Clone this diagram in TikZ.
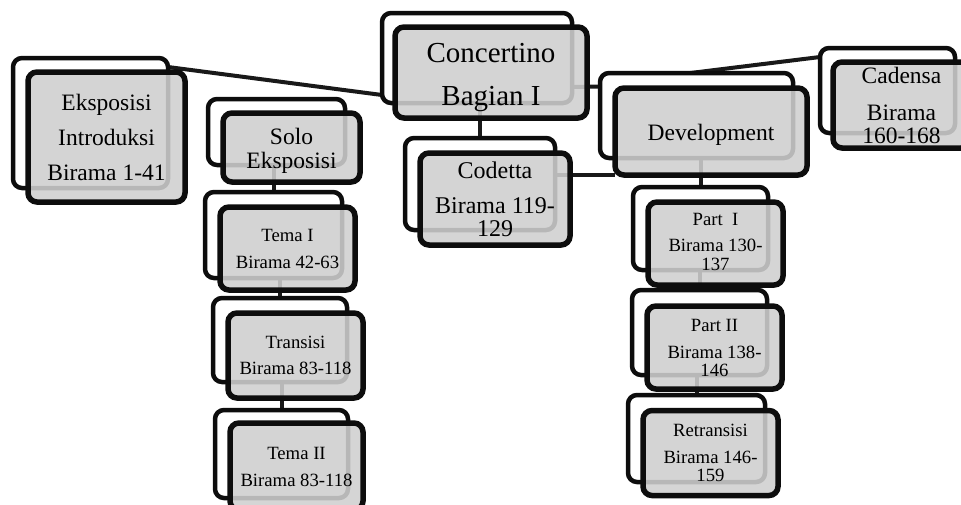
\documentclass[tikz,border=0pt]{standalone}
\usepackage{fontspec}
\setmainfont{Liberation Serif}
\usetikzlibrary{backgrounds}
\begin{document}
\begin{tikzpicture}[x=1pt,y=-1pt,
  backbox/.style={draw=black!95, line width=4.5pt, fill=white, rounded corners=9pt, inner sep=0pt, outer sep=0pt},
  frontbox/.style={draw=black!95, line width=5.5pt, fill=black!19, fill opacity=0.88, text opacity=1,
    rounded corners=9pt, inner sep=0pt, outer sep=0pt, align=center, text=black},
  link/.style={line width=4pt, draw=black!90},
  bigtxt/.style={font=\fontsize{23.5}{35}\selectfont},
  smalltxt/.style={font=\fontsize{18.7}{19}\selectfont}
]
\useasboundingbox (0,0) rectangle (961,504);
\clip (0,0) rectangle (961,504);

% back boxes
\node[backbox, minimum width=155pt, minimum height=130pt] (ekspo-b) at (90.5,123) {};
\node[backbox, minimum width=137pt, minimum height=66pt] (solo-b) at (276.5,132) {};
\node[backbox, minimum width=190pt, minimum height=90pt] (conc-b) at (477,58) {};
\node[backbox, minimum width=150pt, minimum height=92pt] (cod-b) at (480,184) {};
\node[backbox, minimum width=193pt, minimum height=85pt] (dev-b) at (696.5,115.5) {};
\node[backbox, minimum width=135pt, minimum height=85pt] (cad-b) at (887.5,90.5) {};
\node[backbox, minimum width=137pt, minimum height=86pt] (tema1-b) at (273.5,235) {};
\node[backbox, minimum width=134pt, minimum height=84pt] (trans-b) at (280,340) {};
\node[backbox, minimum width=133pt, minimum height=88pt] (tema2-b) at (281.5,454) {};
\node[backbox, minimum width=135pt, minimum height=83pt] (p1-b) at (700.5,228.5) {};
\node[backbox, minimum width=135pt, minimum height=85pt] (p2-b) at (699.5,332.5) {};
\node[backbox, minimum width=137pt, minimum height=87pt] (retr-b) at (696.5,438.5) {};

% front boxes
\node[frontbox, bigtxt, minimum width=157pt, minimum height=130pt] (ekspo-f) at (106.5,137)
  {Eksposisi\\Introduksi\\Birama 1-41};
\node[frontbox, font=\fontsize{23.5}{24}\selectfont, text height=46pt, minimum width=137pt, minimum height=69pt] (solo-f) at (291.5,147.5)
  {Solo\\Eksposisi};
\node[frontbox, font=\fontsize{29}{43}\selectfont, text height=72pt, minimum width=192pt, minimum height=91pt] (conc-f) at (491,72.5)
  {Concertino\\Bagian I};
\node[frontbox, font=\fontsize{24}{23}\selectfont, minimum width=150pt, minimum height=92pt] (cod-f) at (495,199)
  {Codetta\\[12pt]Birama 119-\\129};
\node[frontbox, bigtxt, text height=22pt, minimum width=192pt, minimum height=87pt] (dev-f) at (711,131.5)
  {Development};
\node[frontbox, font=\fontsize{23.5}{23}\selectfont, minimum width=137pt, minimum height=86pt] (cad-f) at (901.5,105)
  {Cadensa\\[14pt]Birama\\160-168};
\node[frontbox, font=\fontsize{18.7}{27}\selectfont, minimum width=135pt, minimum height=83pt] (tema1-f) at (287.5,248.5)
  {Tema I\\Birama 42-63};
\node[frontbox, font=\fontsize{18.7}{26}\selectfont, minimum width=135pt, minimum height=85pt] (trans-f) at (295.5,355.5)
  {Transisi\\Birama 83-118};
\node[frontbox, font=\fontsize{18.7}{27}\selectfont, minimum width=133pt, minimum height=87pt] (tema2-f) at (296.5,466.5)
  {Tema II\\Birama 83-118};
\node[frontbox, smalltxt, text height=55pt, minimum width=135pt, minimum height=83pt] (p1-f) at (715.5,243.5)
  {Part\ \ I\\[7pt]Birama 130-\\137};
\node[frontbox, font=\fontsize{18.7}{18}\selectfont, minimum width=135pt, minimum height=83pt] (p2-f) at (714.5,347.5)
  {Part II\\[9pt]Birama 138-\\146};
\node[frontbox, font=\fontsize{18.7}{18}\selectfont, minimum width=135pt, minimum height=85pt] (retr-f) at (710.5,453)
  {Retransisi\\[9pt]Birama 146-\\159};

% connectors
\begin{scope}[on background layer]
\draw[link] ([yshift=-9pt]ekspo-b.north east) -- ([yshift=8pt]conc-b.south west);
\draw[link] (conc-b.south -| cod-b.north) -- (cod-b.north);
\draw[link] ([yshift=-29pt]conc-b.east) -- ([yshift=29pt]dev-b.west);
\draw[link] ([yshift=9pt]cod-b.east) -- (dev-f.south west);
\draw[link] ([xshift=-6pt]dev-b.north) -- ([yshift=-9pt]cad-b.north west);
\draw[link] (dev-b.south -| p1-b.north) -- (p1-b.north);
\draw[link] (p1-b.south -| p2-b.north) -- (p2-b.north);
\draw[link] (p2-b.south -| retr-b.north) -- (retr-b.north);
\draw[link] (solo-b.south -| tema1-b.north) -- (tema1-b.north);
\draw[link] (tema1-b.south -| trans-b.north) -- (trans-b.north);
\draw[link] (trans-b.south -| tema2-b.north) -- (tema2-b.north);
\end{scope}
\end{tikzpicture}
\end{document}
